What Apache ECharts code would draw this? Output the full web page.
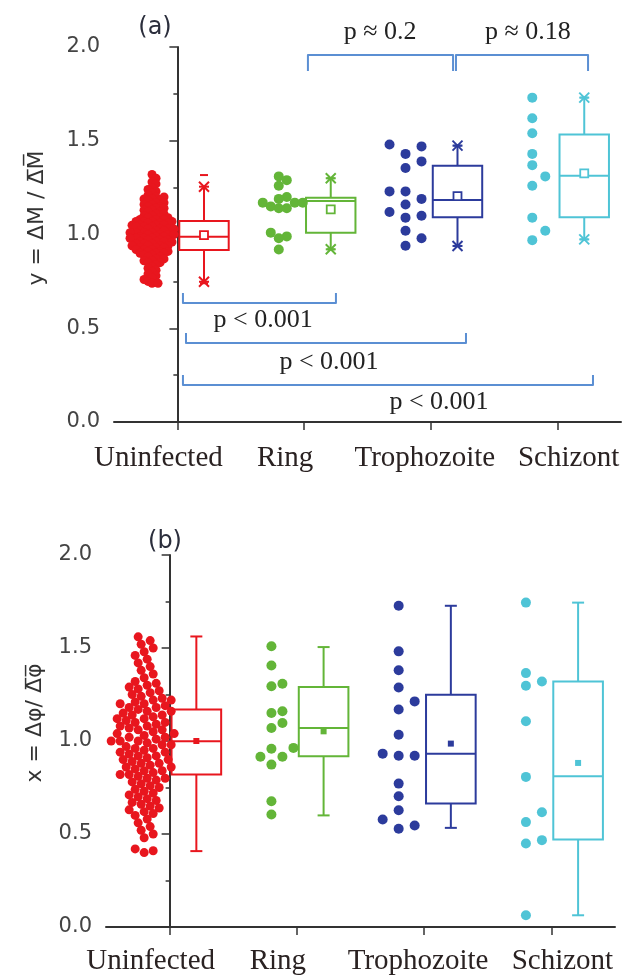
<!DOCTYPE html>
<html><head><meta charset="utf-8">
<script src="https://cdn.jsdelivr.net/npm/echarts@6/dist/echarts.min.js"></script>
<style>html,body{margin:0;padding:0;background:#fff}#c{width:633px;height:976px}</style>
</head><body><div id="c"></div>
<script>
// ---------------- DATA ----------------
const categories = ['Uninfected', 'Ring', 'Trophozoite', 'Schizont'];
const yTickLabels = ['0.0', '0.5', '1.0', '1.5', '2.0'];

// Panel (a): y = ΔM / mean(ΔM)
const aUninfected = [1.32, 1.30, 1.28, 1.27, 1.25, 1.24, 1.23, 1.22, 1.21, 1.20, 1.20,
  1.19, 1.19, 1.18, 1.18, 1.17, 1.17, 1.16, 1.16, 1.15, 1.15, 1.14, 1.14, 1.13, 1.13, 1.12, 1.12, 1.11, 1.11, 1.10, 1.10,
  1.09, 1.09, 1.09, 1.08, 1.08, 1.08, 1.07, 1.07, 1.07, 1.07, 1.06, 1.06, 1.06, 1.05, 1.05, 1.05, 1.05, 1.04, 1.04, 1.04,
  1.03, 1.03, 1.03, 1.03, 1.02, 1.02, 1.02, 1.01, 1.01, 1.01, 1.01, 1.00, 1.00, 1.00, 1.00, 0.99, 0.99, 0.99, 0.98, 0.98,
  0.98, 0.98, 0.97, 0.97, 0.97, 0.96, 0.96, 0.96, 0.96, 0.95, 0.95, 0.95, 0.94, 0.94, 0.94, 0.94, 0.93, 0.93, 0.93, 0.92,
  0.92, 0.92, 0.91, 0.91, 0.91, 0.90, 0.90, 0.90, 0.89, 0.89, 0.88, 0.88,
  0.87, 0.87, 0.86, 0.86, 0.85, 0.85, 0.84, 0.83, 0.82, 0.81, 0.80, 0.79, 0.78, 0.77, 0.76, 0.75, 0.74, 0.74];
const aRing = [1.31, 1.29, 1.26, 1.20, 1.19, 1.17, 1.17, 1.17, 1.15, 1.14, 1.14, 1.01, 0.99, 0.98, 0.92];
const aTrophozoite = [1.48, 1.47, 1.43, 1.39, 1.355, 1.23, 1.23, 1.19, 1.16, 1.12, 1.10, 1.09, 1.02, 0.98, 0.94];
const aSchizont = [1.73, 1.62, 1.54, 1.43, 1.37, 1.31, 1.26, 1.09, 1.02, 0.97];
// box statistics (a)
const aWhiskerLow = [0.748, 0.921, 0.939, 0.974];
const aQ1 = [0.917, 1.010, 1.092, 1.092];
const aMedian = [0.988, 1.179, 1.184, 1.314];
const aQ3 = [1.072, 1.196, 1.367, 1.534];
const aWhiskerHigh = [1.255, 1.300, 1.474, 1.730];
const aMean = [0.997, 1.134, 1.205, 1.326];
const aMin = [0.740, 0.921, 0.939, 0.974];
const aMax = [1.317, 1.300, 1.474, 1.730];

// Panel (b): x = Δφ / mean(Δφ)
const bUninfected = [1.56, 1.54, 1.52, 1.50, 1.48, 1.46, 1.44, 1.42, 1.40, 1.38, 1.36, 1.34, 1.32, 1.31, 1.30, 1.29, 1.28, 1.27, 1.26, 1.25, 1.24, 1.23,
  1.22, 1.22, 1.21, 1.20, 1.20, 1.19, 1.18, 1.18, 1.17, 1.16, 1.16, 1.15, 1.14, 1.14, 1.13, 1.12, 1.12, 1.11, 1.10, 1.10, 1.09, 1.08, 1.08, 1.07,
  1.06, 1.06, 1.05, 1.04, 1.04, 1.03, 1.02, 1.02, 1.01, 1.00, 1.00, 1.00, 0.99, 0.98, 0.98, 0.97, 0.96, 0.96, 0.95, 0.94, 0.94, 0.93, 0.92, 0.92,
  0.91, 0.90, 0.90, 0.89, 0.88, 0.88, 0.87, 0.86, 0.86, 0.85, 0.84, 0.84, 0.83, 0.82, 0.82, 0.81, 0.80, 0.80, 0.79, 0.78,
  0.77, 0.76, 0.75, 0.74, 0.73, 0.72, 0.71, 0.70, 0.69, 0.68, 0.67, 0.66, 0.65, 0.64, 0.63, 0.62, 0.61, 0.60, 0.58, 0.56, 0.54, 0.52, 0.50, 0.48, 0.42, 0.41, 0.40];
const bRing = [1.509, 1.406, 1.308, 1.294, 1.160, 1.151, 1.097, 1.070, 0.963, 0.958, 0.915, 0.915, 0.873, 0.676, 0.605];
const bTrophozoite = [1.727, 1.482, 1.380, 1.288, 1.213, 1.169, 1.034, 0.932, 0.921, 0.921, 0.771, 0.703, 0.628, 0.578, 0.546, 0.528];
const bSchizont = [1.744, 1.365, 1.320, 1.297, 1.106, 0.807, 0.617, 0.564, 0.467, 0.449, 0.063];
// box statistics (b)
const bWhiskerLow = [0.408, 0.600, 0.533, 0.063];
const bQ1 = [0.820, 0.918, 0.664, 0.471];
const bMedian = [0.998, 1.070, 0.932, 0.810];
const bQ3 = [1.169, 1.290, 1.249, 1.320];
const bWhiskerHigh = [1.562, 1.505, 1.727, 1.744];
const bMean = [1.000, 1.052, 0.986, 0.882];

// significance brackets (panel a), in data coordinates
const bracketFrom = [0.044, 0.068, 0.044, 1.03, 2.198];
const bracketTo = [1.251, 2.277, 3.279, 2.175, 3.24];
const bracketLevel = [0.635, 0.421, 0.197, 1.957, 1.957];
const bracketTip = [0.688, 0.475, 0.251, 1.872, 1.872];
const pTexts = ['p < 0.001', 'p < 0.001', 'p < 0.001', 'p ≈ 0.2', 'p ≈ 0.18'];
const pTextX = [0.676, 1.196, 2.064, 1.599, 2.766];
const pTextY = [0.544, 0.320, 0.107, 2.080, 2.080];

// ---------------- STYLE / LAYOUT ----------------
const colors = ['#e8161e', '#63b538', '#2c3b9c', '#4fc4d6'];
const bracketColor = '#5b8fd3';
const gridA = {left: 114, top: 47, width: 507, height: 375};
const gridB = {left: 106, top: 555, width: 509, height: 373};
const SCATTER_SHIFT = -0.2, BOX_SHIFT = 0.21, BOX_W = 0.39;

// deterministic beeswarm layout (pixel space) -> offsets in category units
function swarm(values, grid, step, minDist) {
  const pyu = grid.height / 2, band = grid.width / 4;
  const order = values.map((v, i) => i).sort((a, b) => values[a] - values[b]);
  const placed = [], off = new Array(values.length);
  for (const i of order) {
    const y = values[i] * pyu;
    for (let k = 0; k < 400; k++) {
      const x = (k === 0 ? 0 : (k % 2 ? 1 : -1) * Math.ceil(k / 2)) * step;
      let ok = true;
      for (const p of placed) {
        const dx = p[0] - x, dy = p[1] - y;
        if (dx * dx + dy * dy < minDist * minDist) { ok = false; break; }
      }
      if (ok) { placed.push([x, y]); off[i] = x / band; break; }
    }
  }
  return off;
}

function scatterSeries(values, gi, grid, xAxisIndex, yAxisIndex, step, minDist, size) {
  const off = swarm(values, grid, step, minDist);
  return {
    type: 'scatter', xAxisIndex, yAxisIndex, symbol: 'circle', symbolSize: size,
    itemStyle: {color: colors[gi], opacity: 1}, silent: true,
    data: values.map((v, i) => [gi + SCATTER_SHIFT + off[i], v])
  };
}

function boxSeries(rows, xAxisIndex, yAxisIndex, panel) {
  return {
    type: 'custom', xAxisIndex, yAxisIndex, silent: true, clip: false,
    data: rows,
    renderItem: function (params, api) {
      const i = api.value(0);
      const c = colors[i];
      const xc = i + BOX_SHIFT;
      const w = api.size([BOX_W, 0])[0];
      const pLo = api.coord([xc, api.value(1)]);
      const pQ1 = api.coord([xc, api.value(2)]);
      const pMed = api.coord([xc, api.value(3)]);
      const pQ3 = api.coord([xc, api.value(4)]);
      const pHi = api.coord([xc, api.value(5)]);
      const pMean = api.coord([xc, api.value(6)]);
      const x = pMed[0];
      const ls = {stroke: c, lineWidth: 2, fill: null};
      const ch = [
        {type: 'rect', shape: {x: x - w / 2, y: pQ3[1], width: w, height: pQ1[1] - pQ3[1]}, style: {stroke: c, lineWidth: 2, fill: '#fff'}},
        {type: 'line', shape: {x1: x - w / 2, y1: pMed[1], x2: x + w / 2, y2: pMed[1]}, style: ls},
        {type: 'line', shape: {x1: x, y1: pQ3[1], x2: x, y2: pHi[1]}, style: ls},
        {type: 'line', shape: {x1: x, y1: pQ1[1], x2: x, y2: pLo[1]}, style: ls}
      ];
      if (panel === 'a') {
        const s = 5;
        [pHi, pLo].forEach(p => {
          ch.push({type: 'line', shape: {x1: x - s, y1: p[1] - s, x2: x + s, y2: p[1] + s}, style: ls});
          ch.push({type: 'line', shape: {x1: x - s, y1: p[1] + s, x2: x + s, y2: p[1] - s}, style: ls});
          ch.push({type: 'line', shape: {x1: x - s, y1: p[1], x2: x + s, y2: p[1]}, style: ls});
        });
        const pMin = api.coord([xc, api.value(7)]);
        const pMax = api.coord([xc, api.value(8)]);
        [pMin, pMax].forEach(p => ch.push({type: 'line', shape: {x1: x - 4, y1: p[1], x2: x + 4, y2: p[1]}, style: ls}));
        ch.push({type: 'rect', shape: {x: pMean[0] - 4, y: pMean[1] - 4, width: 8, height: 8}, style: {stroke: c, lineWidth: 1.8, fill: '#fff'}});
      } else {
        [pHi, pLo].forEach(p => ch.push({type: 'line', shape: {x1: x - 6, y1: p[1], x2: x + 6, y2: p[1]}, style: ls}));
        ch.push({type: 'rect', shape: {x: pMean[0] - 3, y: pMean[1] - 3, width: 6, height: 6}, style: {fill: c}});
      }
      return {type: 'group', children: ch};
    }
  };
}

const rowsA = categories.map((_, i) => [i, aWhiskerLow[i], aQ1[i], aMedian[i], aQ3[i], aWhiskerHigh[i], aMean[i], aMin[i], aMax[i]]);
const rowsB = categories.map((_, i) => [i, bWhiskerLow[i], bQ1[i], bMedian[i], bQ3[i], bWhiskerHigh[i], bMean[i]]);

const bracketSeries = {
  type: 'custom', xAxisIndex: 1, yAxisIndex: 0, silent: true, clip: false,
  data: pTexts.map((t, i) => [bracketFrom[i], bracketTo[i], bracketLevel[i], bracketTip[i], pTextX[i], pTextY[i], i]),
  renderItem: function (params, api) {
    const a = api.coord([api.value(0), api.value(2)]);
    const b = api.coord([api.value(1), api.value(2)]);
    const ta = api.coord([api.value(0), api.value(3)]);
    const tb = api.coord([api.value(1), api.value(3)]);
    const tp = api.coord([api.value(4), api.value(5)]);
    return {type: 'group', children: [
      {type: 'polyline', shape: {points: [ta, a, b, tb], smooth: 0}, style: {stroke: bracketColor, lineWidth: 2, fill: null, lineJoin: 'round'}},
      {type: 'text', style: {x: tp[0], y: tp[1], text: pTexts[api.value(6)], fill: '#222', font: '26px "Liberation Serif"', align: 'center', verticalAlign: 'middle'}}
    ]};
  }
};

function yAxisCfg(gridIndex) {
  return {
    type: 'value', gridIndex, min: 0, max: 2, interval: 0.5,
    axisLine: {show: true, lineStyle: {color: '#333', width: 2}},
    axisTick: {show: true, length: 8, lineStyle: {color: '#333', width: 1.5}},
    minorTick: {show: true, splitNumber: 2, length: 4, lineStyle: {color: '#333', width: 1.5}},
    splitLine: {show: false},
    axisLabel: {formatter: v => yTickLabels[Math.round(v / 0.5)], fontFamily: 'DejaVu Sans', fontSize: 21, color: '#444', margin: 14}
  };
}
const catFont = {fontFamily: 'Liberation Serif', fontSize: 29, color: '#2a2222', lineHeight: 30};
const catRich = {
  c0: Object.assign({padding: [0, 38, 0, 0]}, catFont),
  c1: Object.assign({padding: [0, 38, 0, 0]}, catFont),
  c2: Object.assign({padding: [0, 12, 0, 0]}, catFont),
  c3: Object.assign({padding: [0, 0, 0, 22]}, catFont)
};
function xCatCfg(gridIndex, margin) {
  return {
    type: 'category', gridIndex, data: categories, boundaryGap: true,
    axisLine: {show: true, lineStyle: {color: '#333', width: 2}},
    axisTick: {show: true, alignWithLabel: true, length: 8, lineStyle: {color: '#333', width: 1.5}},
    axisLabel: Object.assign({margin: margin, interval: 0, rich: catRich,
      formatter: (v, i) => '{c' + i + '|' + v + '}'}, catFont),
    splitLine: {show: false}
  };
}
function xValCfg(gridIndex) {
  return {type: 'value', gridIndex, min: -0.5, max: 3.5, show: false, splitLine: {show: false}};
}

const chart = echarts.init(document.getElementById('c'), null, {renderer: 'canvas'});
chart.setOption({
  backgroundColor: '#fff',
  animation: false,
  grid: [gridA, gridB],
  xAxis: [xCatCfg(0, 21), xValCfg(0), xCatCfg(1, 19), xValCfg(1)],
  yAxis: [yAxisCfg(0), yAxisCfg(1)],
  graphic: [
    {type: 'text', x: 155, y: 28, style: {text: '(a)', font: '24px "DejaVu Sans"', fill: '#2b2e3c', align: 'center', verticalAlign: 'middle'}},
    {type: 'text', x: 165, y: 542, style: {text: '(b)', font: '24px "DejaVu Sans"', fill: '#2b2e3c', align: 'center', verticalAlign: 'middle'}},
    {type: 'text', x: 37, y: 218, rotation: Math.PI / 2, style: {text: 'y = \u0394M / \u0394\u0305M\u0305', font: '22px "DejaVu Sans"', fill: '#333', align: 'center', verticalAlign: 'middle'}},
    {type: 'text', x: 35, y: 723, rotation: Math.PI / 2, style: {text: 'x = \u0394\u03c6/ \u0394\u0305\u03c6\u0305', font: '22px "DejaVu Sans"', fill: '#333', align: 'center', verticalAlign: 'middle'}}
  ],
  series: [
    scatterSeries(aUninfected, 0, gridA, 1, 0, 2, 4.4, 9),
    scatterSeries(aRing, 1, gridA, 1, 0, 8, 8, 10),
    scatterSeries(aTrophozoite, 2, gridA, 1, 0, 16, 11, 10),
    scatterSeries(aSchizont, 3, gridA, 1, 0, 13, 11, 10),
    boxSeries(rowsA, 1, 0, 'a'),
    bracketSeries,
    scatterSeries(bUninfected, 0, gridB, 3, 1, 3, 7.5, 9),
    scatterSeries(bRing, 1, gridB, 3, 1, 11, 10, 10),
    scatterSeries(bTrophozoite, 2, gridB, 3, 1, 16, 11, 10),
    scatterSeries(bSchizont, 3, gridB, 3, 1, 16, 11, 10),
    boxSeries(rowsB, 3, 1, 'b')
  ]
});
</script></body></html>
